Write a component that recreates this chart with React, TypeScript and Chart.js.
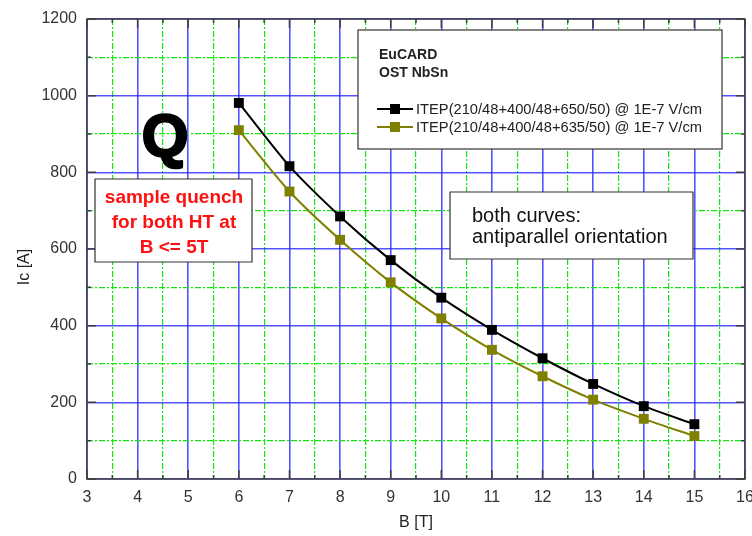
import React, { useEffect, useRef } from 'react';
import { Chart, registerables } from 'chart.js';

Chart.register(...registerables);

// ---- data ----
const bField = [6, 7, 8, 9, 10, 11, 12, 13, 14, 15];
const ic650 = [981, 816, 685, 571, 473, 389, 315, 248, 190, 143];
const ic635 = [910, 750, 624, 513, 419, 337, 268, 207, 157, 112];
const seriesLabels = [
  'ITEP(210/48+400/48+650/50) @ 1E-7 V/cm',
  'ITEP(210/48+400/48+635/50) @ 1E-7 V/cm',
];
const legendTitle = ['EuCARD', 'OST NbSn'];
const quenchNote = ['sample quench', 'for both HT at', 'B <= 5T'];
const orientationNote = ['both curves:', 'antiparallel orientation'];
const bigLetter = 'Q';
const xTitle = 'B [T]';
const yTitle = 'Ic [A]';
const xRange = [3, 16];
const yRange = [0, 1200];

const FONT = 'Arial, "Liberation Sans", sans-serif';
const BLUE = 'rgba(40,40,255,0.8)';
const GREEN = '#10e810';
const FRAME = '#404040';

const decorPlugin = {
  id: 'decor',
  afterDatasetsDraw(chart: any) {
    const ctx = chart.ctx as CanvasRenderingContext2D;
    const { left, right, top, bottom } = chart.chartArea;
    const xs = chart.scales.x;
    const ys = chart.scales.y;
    ctx.save();
    // frame
    ctx.strokeStyle = FRAME;
    ctx.lineWidth = 1.5;
    ctx.strokeRect(left, top, right - left, bottom - top);
    // inward ticks
    for (let v = xRange[0]; v <= xRange[1]; v += 0.5) {
      const px = xs.getPixelForValue(v);
      const len = v % 1 === 0 ? 9 : 4;
      ctx.beginPath();
      ctx.moveTo(px, bottom);
      ctx.lineTo(px, bottom - len);
      ctx.moveTo(px, top);
      ctx.lineTo(px, top + len);
      ctx.stroke();
    }
    for (let v = yRange[0]; v <= yRange[1]; v += 100) {
      const py = ys.getPixelForValue(v);
      const len = v % 200 === 0 ? 9 : 4;
      ctx.beginPath();
      ctx.moveTo(left, py);
      ctx.lineTo(left + len, py);
      ctx.moveTo(right, py);
      ctx.lineTo(right - len, py);
      ctx.stroke();
    }

    // axis titles
    ctx.fillStyle = '#222';
    ctx.font = `16px ${FONT}`;
    ctx.textAlign = 'center';
    ctx.textBaseline = 'middle';
    ctx.fillText(xTitle, (left + right) / 2, 523);
    ctx.save();
    ctx.translate(25, 267);
    ctx.rotate(-Math.PI / 2);
    ctx.fillText(yTitle, 0, 0);
    ctx.restore();

    // Legend box
    ctx.fillStyle = '#fff';
    ctx.fillRect(358, 30, 364, 119);
    ctx.strokeStyle = '#333';
    ctx.lineWidth = 1.2;
    ctx.strokeRect(358, 30, 364, 119);
    ctx.fillStyle = '#222';
    ctx.textAlign = 'left';
    ctx.textBaseline = 'alphabetic';
    ctx.font = `bold 14px ${FONT}`;
    ctx.fillText(legendTitle[0], 379, 59);
    ctx.fillText(legendTitle[1], 379, 77);
    ctx.font = `14.7px ${FONT}`;
    chart.data.datasets.forEach((ds: any, i: number) => {
      const y = 109 + i * 18;
      ctx.strokeStyle = ds.borderColor;
      ctx.lineWidth = 2;
      ctx.beginPath();
      ctx.moveTo(377, y);
      ctx.lineTo(413, y);
      ctx.stroke();
      ctx.fillStyle = ds.pointBackgroundColor;
      ctx.fillRect(390, y - 5, 10, 10);
      ctx.fillStyle = '#222';
      ctx.textBaseline = 'middle';
      ctx.fillText(ds.label, 416, y + 1);
    });

    // Big Q
    ctx.textAlign = 'center';
    ctx.textBaseline = 'alphabetic';
    ctx.fillStyle = '#000';
    ctx.strokeStyle = '#000';
    ctx.lineWidth = 2.5;
    ctx.lineJoin = 'round';
    ctx.font = `bold 60px ${FONT}`;
    ctx.fillText(bigLetter, 165, 156);
    ctx.strokeText(bigLetter, 165, 156);

    // Quench note box
    ctx.fillStyle = '#fff';
    ctx.fillRect(95, 179, 157, 83);
    ctx.strokeStyle = '#333';
    ctx.lineWidth = 1.2;
    ctx.strokeRect(95, 179, 157, 83);
    ctx.fillStyle = '#ff1010';
    ctx.font = `bold 19px ${FONT}`;
    quenchNote.forEach((t, i) => ctx.fillText(t, 174, 203 + i * 25));

    // Orientation note box
    ctx.fillStyle = '#fff';
    ctx.fillRect(450, 192, 243, 67);
    ctx.strokeStyle = '#333';
    ctx.strokeRect(450, 192, 243, 67);
    ctx.fillStyle = '#111';
    ctx.textAlign = 'left';
    ctx.font = `20px ${FONT}`;
    orientationNote.forEach((t, i) => ctx.fillText(t, 472, 222 + i * 21));
    ctx.restore();
  },
};

export default function App() {
  const ref = useRef<HTMLCanvasElement>(null);
  useEffect(() => {
    document.body.style.margin = '0';
    const chart = new Chart(ref.current as HTMLCanvasElement, {
      type: 'line',
      data: {
        datasets: [
          {
            label: seriesLabels[0],
            data: bField.map((b, i) => ({ x: b, y: ic650[i] })),
            borderColor: '#000000',
            backgroundColor: '#000000',
            pointBackgroundColor: '#000000',
            pointBorderColor: '#000000',
            borderWidth: 2,
            pointStyle: 'rect',
            pointRadius: 7,
            pointBorderWidth: 0,
            tension: 0.25,
          },
          {
            label: seriesLabels[1],
            data: bField.map((b, i) => ({ x: b, y: ic635[i] })),
            borderColor: '#808000',
            backgroundColor: '#808000',
            pointBackgroundColor: '#808000',
            pointBorderColor: '#808000',
            borderWidth: 2,
            pointStyle: 'rect',
            pointRadius: 7,
            pointBorderWidth: 0,
            tension: 0.25,
          },
        ],
      },
      options: {
        animation: false,
        responsive: false,
        devicePixelRatio: 1,
        layout: { padding: { top: 19, right: 7, left: 0, bottom: 0 } },
        plugins: { legend: { display: false }, tooltip: { enabled: false } },
        scales: {
          x: {
            type: 'linear',
            min: xRange[0],
            max: xRange[1],
            afterFit: (s: any) => {
              s.height = 57;
              s.paddingLeft = 0;
              s.paddingRight = 0;
            },
            ticks: {
              stepSize: 0.5,
              autoSkip: false,
              maxRotation: 0,
              padding: 9,
              color: '#333',
              font: { family: FONT, size: 16 },
              callback: (v: any) => (Number(v) % 1 === 0 ? String(v) : ''),
            },
            grid: {
              drawTicks: false,
              lineWidth: (c: any) => (c.tick && c.tick.value % 1 === 0 ? 1.6 : 1.2),
              color: (c: any) => (c.tick && c.tick.value % 1 === 0 ? BLUE : GREEN),
            },
            border: {
              display: false,
              dash: (c: any) => (c.tick && c.tick.value % 1 !== 0 ? [6, 2, 2, 2] : []),
            },
          },
          y: {
            type: 'linear',
            min: yRange[0],
            max: yRange[1],
            afterFit: (s: any) => {
              s.width = 87;
              s.paddingTop = 0;
              s.paddingBottom = 0;
            },
            ticks: {
              stepSize: 100,
              autoSkip: false,
              padding: 10,
              color: '#333',
              font: { family: FONT, size: 16 },
              callback: (v: any) => (Number(v) % 200 === 0 ? String(v) : ''),
            },
            grid: {
              drawTicks: false,
              lineWidth: (c: any) => (c.tick && c.tick.value % 200 === 0 ? 1.6 : 1.2),
              color: (c: any) => (c.tick && c.tick.value % 200 === 0 ? BLUE : GREEN),
            },
            border: {
              display: false,
              dash: (c: any) => (c.tick && c.tick.value % 200 !== 0 ? [6, 2, 2, 2] : []),
            },
          },
        },
      },
      plugins: [decorPlugin],
    });
    return () => chart.destroy();
  }, []);
  return <canvas ref={ref} width={752} height={536} style={{ display: 'block' }} />;
}
